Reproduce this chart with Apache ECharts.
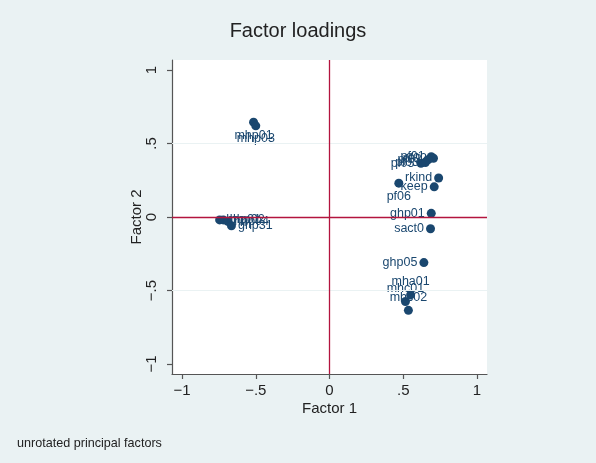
<!DOCTYPE html>
<html>
<head>
<meta charset="utf-8">
<script src="https://cdn.jsdelivr.net/npm/echarts@6/dist/echarts.min.js"></script>
<style>
  html, body { margin: 0; padding: 0; background: #eaf2f3; }
  #chart { width: 596px; height: 463px; }
</style>
</head>
<body>
<div id="chart"></div>
<script>
// loadings
var varNames = ['mhp01', 'mhp03',
  'hhp01', 'hhp02', 'hhp04', 'ghp31',
  'pf01', 'pf02', 'pf03', 'pl03', 'pl05',
  'rkind', 'keep', 'pf06', 'ghp01', 'sact0', 'ghp05',
  'mha01', 'mhc01', 'mhc02'];
var factor1 = [-0.515, -0.50,
  -0.745, -0.72, -0.69, -0.665,
  0.69, 0.705, 0.67, 0.65, 0.62,
  0.74, 0.71, 0.47, 0.69, 0.685, 0.64,
  0.55, 0.515, 0.535];
var factor2 = [0.645, 0.62,
  -0.02, -0.02, -0.03, -0.06,
  0.41, 0.40, 0.39, 0.37, 0.365,
  0.265, 0.205, 0.23, 0.025, -0.08, -0.31,
  -0.53, -0.575, -0.635];
var tickValues = [-1, -0.5, 0, 0.5, 1];
var tickText = ['\u22121', '\u2212.5', '0', '.5', '1'];

// where each marker label sits
var labelPlace = {
  mhp01: 'bottom', mhp03: 'bottom', pf06: 'bottom',
  hhp01: 'right', hhp02: 'right', hhp04: 'right', ghp31: 'right',
  mha01: 'top', mhc01: 'top', mhc02: 'top'
};

var navy = '#1a476f';
var points = varNames.map(function (n, i) {
  return {
    name: n,
    value: [factor1[i], factor2[i]],
    label: { position: labelPlace[n] || 'left' }
  };
});

function tickLabel(v) {
  for (var i = 0; i < tickValues.length; i++) {
    if (Math.abs(v - tickValues[i]) < 1e-6) return tickText[i];
  }
  return '';
}

function makeAxis(title, gap, labelOpts) {
  return {
    type: 'value',
    min: -1.068,
    max: 1.068,
    name: title,
    nameLocation: 'middle',
    nameGap: gap,
    nameMoveOverlap: false,
    nameTextStyle: { fontFamily: 'Liberation Sans', fontSize: 15, color: '#222' },
    axisLine: { show: true, onZero: false, lineStyle: { color: '#555', width: 1.2 } },
    axisTick: { show: true, customValues: tickValues, length: 5, lineStyle: { color: '#555', width: 1.2 } },
    axisLabel: echarts.util.extend({
      customValues: tickValues,
      formatter: tickLabel,
      fontFamily: 'Liberation Sans',
      fontSize: 15,
      color: '#222'
    }, labelOpts),
    splitLine: { show: false }
  };
}

var chart = echarts.init(document.getElementById('chart'));
chart.setOption({
  backgroundColor: '#eaf2f3',
  animation: false,
  title: {
    text: 'Factor loadings',
    left: 'center',
    top: 16,
    textStyle: { fontFamily: 'Liberation Sans', fontSize: 20, fontWeight: 'normal', color: '#222' }
  },
  graphic: [{
    type: 'text',
    left: 17,
    top: 437,
    style: { text: 'unrotated principal factors', font: '12.6px "Liberation Sans"', fill: '#222' }
  }],
  grid: {
    left: 172, top: 60, width: 315, height: 314,
    show: true, backgroundColor: '#fff', borderWidth: 0
  },
  xAxis: makeAxis('Factor 1', 27, { margin: 9 }),
  yAxis: makeAxis('Factor 2', 28, { rotate: 90, margin: 13 }),
  series: [{
    type: 'scatter',
    symbolSize: 9,
    itemStyle: { color: navy, opacity: 1 },
    label: {
      show: true,
      formatter: '{b}',
      distance: 2,
      fontFamily: 'Liberation Sans',
      fontSize: 12.5,
      color: navy
    },
    labelLayout: { hideOverlap: false },
    data: points,
    markLine: {
      silent: true,
      symbol: 'none',
      label: { show: false },
      data: [
        { yAxis: 0.5, lineStyle: { color: '#eaf2f3', width: 1.2, type: 'solid' } },
        { yAxis: -0.5, lineStyle: { color: '#eaf2f3', width: 1.2, type: 'solid' } },
        { xAxis: 0, lineStyle: { color: '#b3143e', width: 1.3, type: 'solid' } },
        { yAxis: 0, lineStyle: { color: '#b3143e', width: 1.3, type: 'solid' } }
      ]
    },
    z: 3
  }]
});
</script>
</body>
</html>
